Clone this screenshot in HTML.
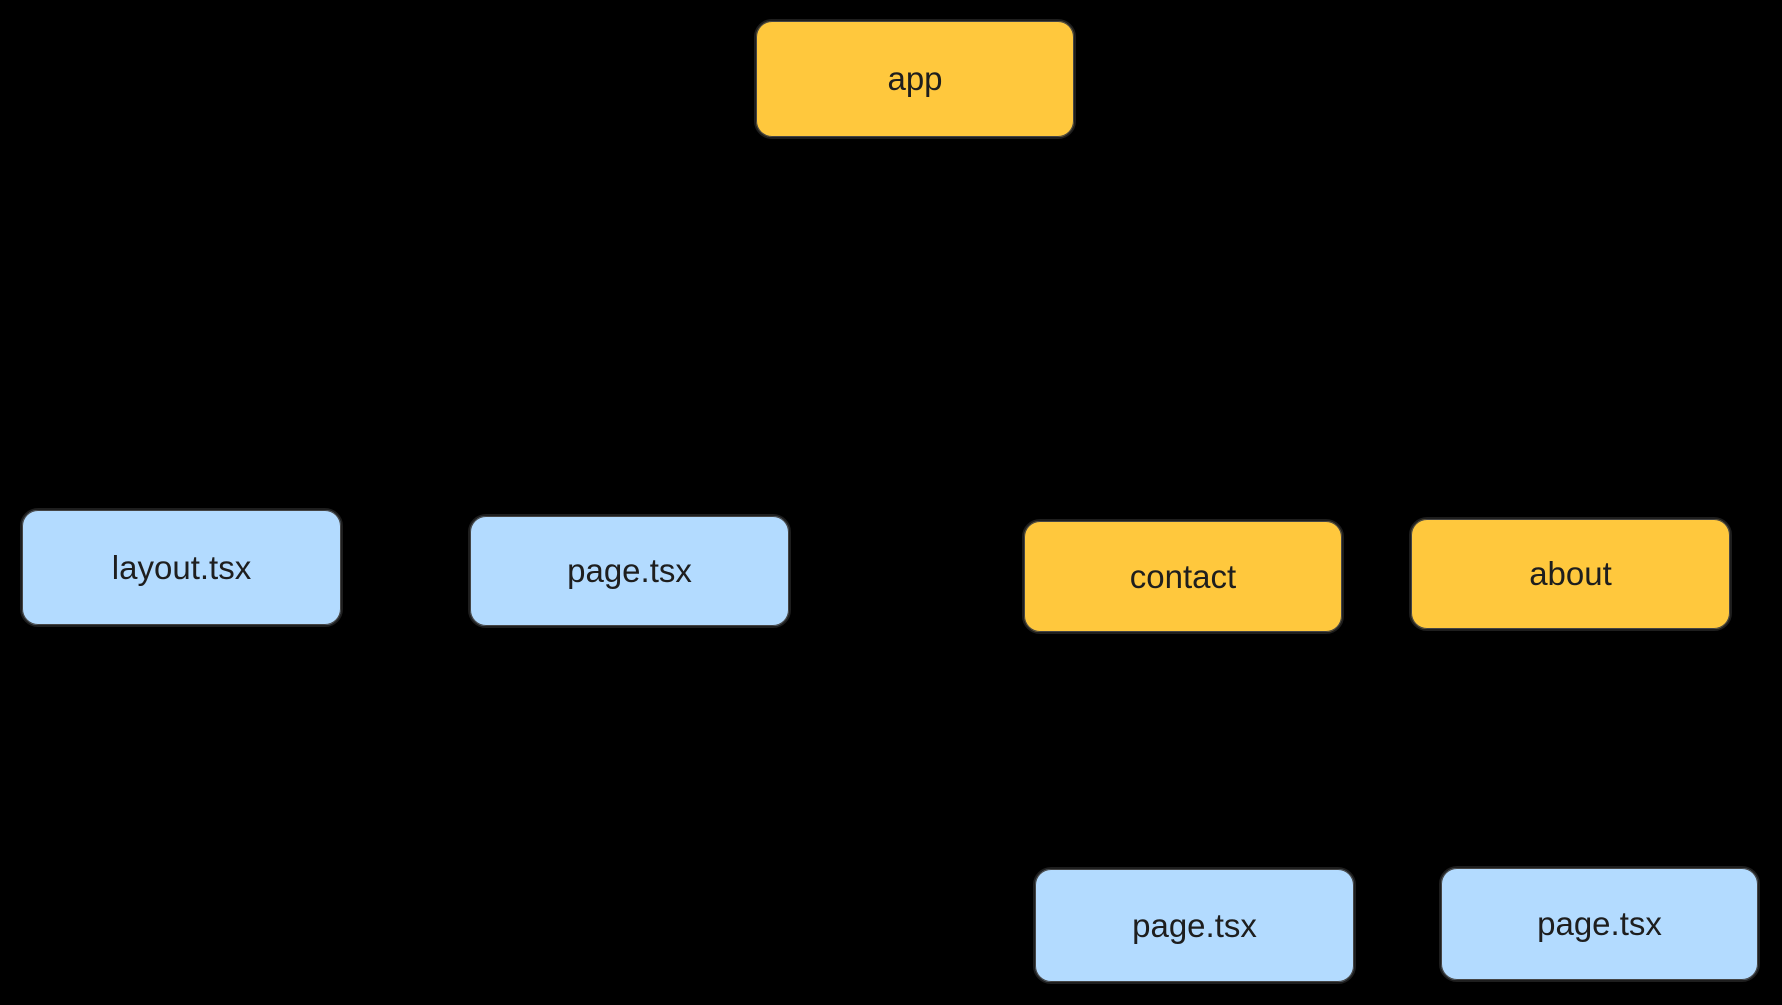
<!DOCTYPE html>
<html><head><meta charset="utf-8"><style>
html,body{margin:0;padding:0;background:#000;}
body{width:1782px;height:1005px;position:relative;overflow:hidden;font-family:"Liberation Sans",sans-serif;}
.n{position:absolute;box-sizing:border-box;border:2px solid #1e1e1e;border-radius:18px;display:flex;align-items:center;justify-content:center;font-size:33px;color:#1e1e1e;box-shadow:0 0 0 1px #444 inset;}
.y{background:#ffc83d;}
.b{background:#b3dbff;}
</style></head><body>
<div class="n y" style="left:754px;top:19px;width:322px;height:120px">app</div>
<div class="n b" style="left:20px;top:508px;width:323px;height:119px">layout.tsx</div>
<div class="n b" style="left:468px;top:514px;width:323px;height:114px">page.tsx</div>
<div class="n y" style="left:1022px;top:519px;width:322px;height:115px">contact</div>
<div class="n y" style="left:1409px;top:517px;width:323px;height:114px">about</div>
<div class="n b" style="left:1033px;top:867px;width:323px;height:117px">page.tsx</div>
<div class="n b" style="left:1439px;top:866px;width:321px;height:116px">page.tsx</div>
</body></html>
